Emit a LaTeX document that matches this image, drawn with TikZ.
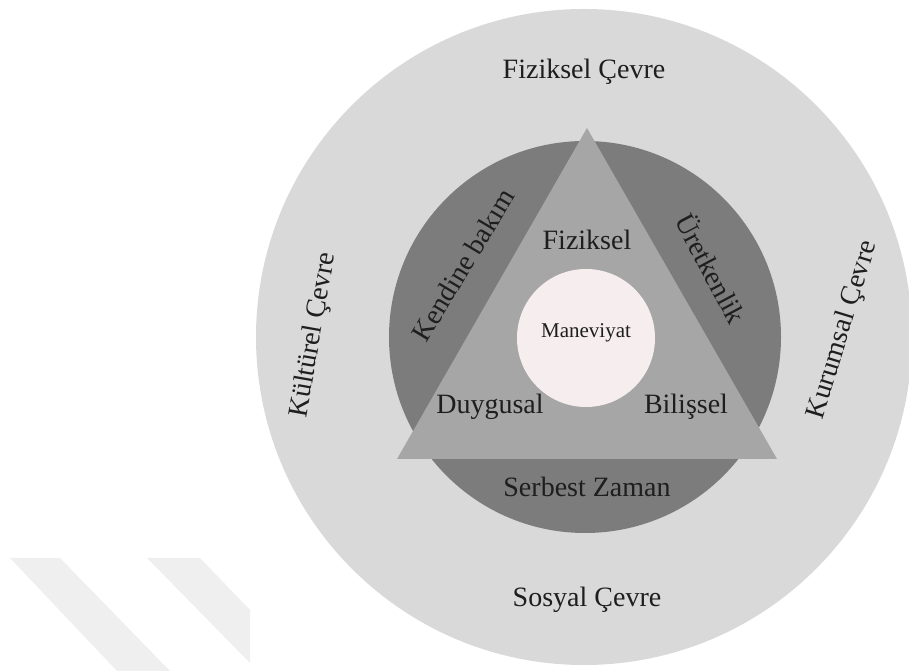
\documentclass[tikz,border=0pt]{standalone}
\usepackage{fontspec}
\setmainfont{Liberation Serif}
\usepackage{tikz}

\definecolor{outergray}{HTML}{D9D9D9}
\definecolor{ringgray}{HTML}{7C7C7C}
\definecolor{trigray}{HTML}{A6A6A6}
\definecolor{corepink}{HTML}{F6EEEE}
\definecolor{markgray}{HTML}{EFEFEF}
\definecolor{labelink}{HTML}{1E1E1E}

\begin{document}
\begin{tikzpicture}[x=1pt,y=1pt,
  lbl/.style={text=labelink,inner sep=0pt,font=\fontsize{28}{31}\selectfont},
  smalllbl/.style={lbl,font=\fontsize{21}{24}\selectfont}]
  \useasboundingbox (0,0) rectangle (909,671);
  \fill[markgray] (10,113) -- (60,113) -- (170,0) -- (117,0) -- cycle;
  \fill[markgray] (147,113) -- (200,113) -- (250,61) -- (250,8) -- cycle;
  \fill[outergray] (584,334) circle (328);
  \fill[ringgray] (585,334) circle (196);
  \fill[trigray] (587,543) -- (397,212) -- (777,212) -- cycle;
  \fill[corepink] (586,333) circle (69);
  \foreach \p/\r/\n/\t in {{(584,599)}/0/fizcevre/Fiziksel Çevre,
      {(587,71)}/0/soscevre/Sosyal Çevre,
      {(314,336)}/80/kulcevre/Kültürel Çevre,
      {(843,341)}/73/kurcevre/Kurumsal Çevre,
      {(463,406)}/59/bakim/Kendine bakım,
      {(712,403)}/-62/uretken/Üretkenlik,
      {(587,184)}/0/serbest/Serbest Zaman,
      {(587,431)}/0/fiziksel/Fiziksel,
      {(490,264)}/0/duygu/Duygusal,
      {(686,264)}/0/bilis/Bilişsel}
    {\node[lbl,rotate=\r] (\n) at \p {\t};}
  \node[smalllbl] (manevi) at (586,338) {Maneviyat};
\end{tikzpicture}
\end{document}
